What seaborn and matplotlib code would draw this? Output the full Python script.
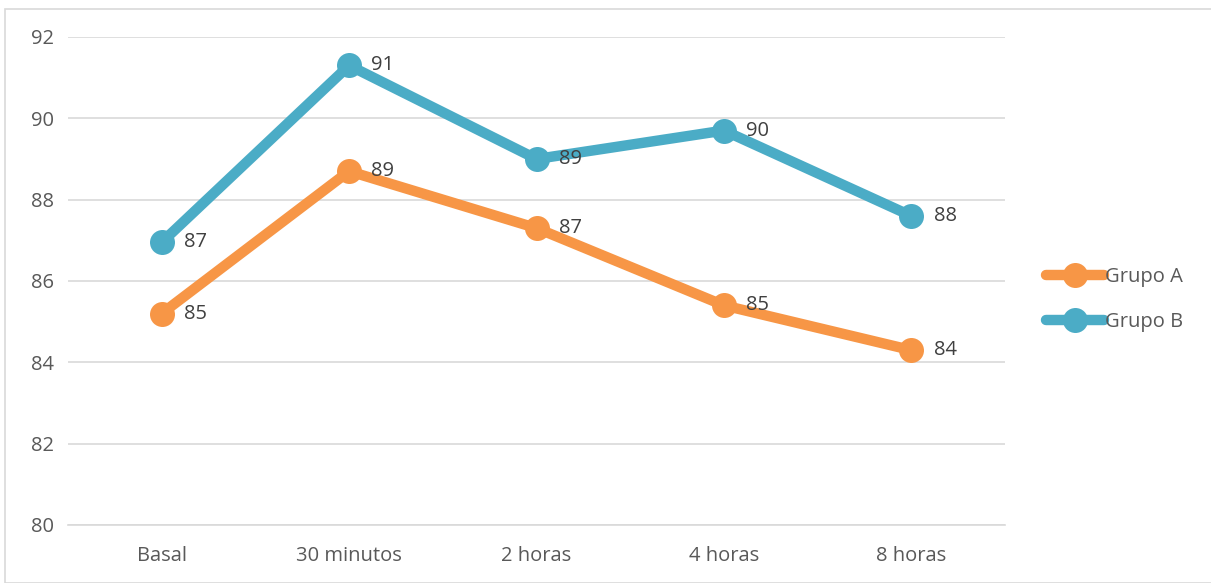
import pandas as pd
import matplotlib.pyplot as plt
import seaborn as sns
from matplotlib.patches import Rectangle

# ---------- data ----------
momentos = ["Basal", "30 minutos", "2 horas", "4 horas", "8 horas"]
grupo_a = [85.2, 88.7, 87.3, 85.4, 84.3]
grupo_b = [86.95, 91.3, 89.0, 89.7, 87.6]
grupos = ["Grupo A", "Grupo B"]
colores = ["#F79646", "#4BACC6"]

df = pd.DataFrame({
    "momento": momentos * 2,
    "pos": list(range(len(momentos))) * 2,
    "valor": grupo_a + grupo_b,
    "grupo": ["Grupo A"] * len(momentos) + ["Grupo B"] * len(momentos),
})

sns.set_theme(style="white")
plt.rcParams["font.family"] = ["Open Sans", "DejaVu Sans"]
gris = "#595959"
fs = 14.5

fig = plt.figure(figsize=(12.11, 5.83), dpi=100)
ax = fig.add_axes([68 / 1211, 1 - 525 / 583, (1005 - 68) / 1211, (525 - 37) / 583])

# marco exterior
fig.patches.append(Rectangle((5 / 1211, 0), 1.2, 1 - 9 / 583, transform=fig.transFigure,
                             fill=False, edgecolor="#D9D9D9", linewidth=1.2))

sns.lineplot(data=df, x="pos", y="valor", hue="grupo", hue_order=grupos,
             palette=colores, marker="o", markersize=18, linewidth=7.5,
             markeredgewidth=0, ax=ax)

# etiquetas de datos
for vals, grp in zip([grupo_a, grupo_b], grupos):
    for i, v in enumerate(vals):
        ax.annotate(f"{v:.0f}", (i, v), xytext=(16, 0), textcoords="offset points",
                    va="center", ha="left", fontsize=fs, color="#404040")

ax.set_xlim(-0.5, len(momentos) - 0.5)
ax.set_ylim(80, 92)
ax.set_yticks(range(80, 93, 2))
ax.set_xticks(range(len(momentos)))
ax.set_xticklabels(momentos)
ax.grid(axis="y", color="#D9D9D9", linewidth=1.2)
ax.set_axisbelow(True)
for s in ["top", "right", "left"]:
    ax.spines[s].set_visible(False)
ax.spines["bottom"].set_color("#D9D9D9")
ax.spines["bottom"].set_linewidth(1.2)
ax.tick_params(axis="both", length=0, labelsize=fs, colors=gris)
ax.tick_params(axis="x", pad=15)
ax.tick_params(axis="y", pad=10)
ax.set_xlabel("")
ax.set_ylabel("")

handles, labels = ax.get_legend_handles_labels()
ax.legend(handles, labels, loc="center left", bbox_to_anchor=(1.024, 0.462),
          frameon=False, fontsize=fs, labelcolor=gris, handlelength=2.9,
          handletextpad=0.05, labelspacing=1.25)

fig.savefig("out.png", dpi=100)
